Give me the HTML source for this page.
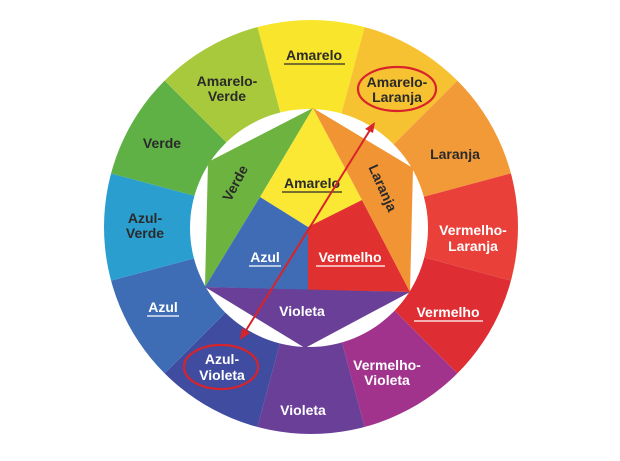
<!DOCTYPE html>
<html><head><meta charset="utf-8"><style>
body{margin:0;background:#fff}
svg text{font-family:"Liberation Sans",sans-serif;font-weight:bold;font-size:14px;text-anchor:middle}
.d{fill:#2a2a2a}.w{fill:#fff}
</style></head><body>
<svg width="620" height="456" viewBox="0 0 620 456">
<defs><clipPath id="c"><circle cx="311" cy="227" r="207"/></clipPath></defs>
<g clip-path="url(#c)">
<polygon points="311,227 243.7,-24.1 378.3,-24.1" fill="#f8e52c"/>
<polygon points="311,227 378.3,-24.1 494.8,43.2" fill="#f7c231"/>
<polygon points="311,227 494.8,43.2 562.1,159.7" fill="#f29a38"/>
<polygon points="311,227 562.1,159.7 562.1,294.3" fill="#e9403a"/>
<polygon points="311,227 562.1,294.3 494.8,410.8" fill="#df2e33"/>
<polygon points="311,227 494.8,410.8 378.3,478.1" fill="#a2338d"/>
<polygon points="311,227 378.3,478.1 243.7,478.1" fill="#6a3f98"/>
<polygon points="311,227 243.7,478.1 127.2,410.8" fill="#3f4ca0"/>
<polygon points="311,227 127.2,410.8 59.9,294.3" fill="#3e6db6"/>
<polygon points="311,227 59.9,294.3 59.9,159.7" fill="#2a9fcf"/>
<polygon points="311,227 59.9,159.7 127.2,43.2" fill="#5fb146"/>
<polygon points="311,227 127.2,43.2 243.7,-24.1" fill="#a7c93b"/>
</g>
<circle cx="309" cy="228" r="119" fill="#fff"/>
<polygon points="313,108 260,197 308,227 362,200" fill="#fbe834"/>
<polygon points="313,108 208,162 205,287 260,197" fill="#6db33f"/>
<polygon points="260,197 205,287 308,290 308,227" fill="#3f6cb5"/>
<polygon points="308,227 362,200 410,292 308,290" fill="#e0302f"/>
<polygon points="313,108 413,168 410,292 362,200" fill="#f19433"/>
<polygon points="205,287 410,292 305,348" fill="#693f98"/>
<text class="d" x="314" y="60">Amarelo</text><line x1="284" y1="64" x2="345" y2="64" stroke="#2a2a2a" stroke-width="1.3"/>
<text class="d" x="397" y="87">Amarelo-</text><text class="d" x="397" y="102">Laranja</text>
<ellipse cx="397" cy="89" rx="39" ry="22" fill="none" stroke="#d8232a" stroke-width="2.2"/>
<text class="d" x="455" y="159">Laranja</text>
<text class="w" x="473" y="235">Vermelho-</text><text class="w" x="473" y="251">Laranja</text>
<text class="w" x="448" y="317">Vermelho</text><line x1="414" y1="321" x2="483" y2="321" stroke="#fff" stroke-width="1.3"/>
<text class="w" x="387" y="370">Vermelho-</text><text class="w" x="387" y="385">Violeta</text>
<text class="w" x="303" y="415">Violeta</text>
<text class="w" x="222" y="364">Azul-</text><text class="w" x="222" y="380">Violeta</text>
<ellipse cx="221" cy="367" rx="37" ry="22" fill="none" stroke="#d8232a" stroke-width="2.2"/>
<text class="w" x="163" y="312">Azul</text><line x1="147" y1="316" x2="179" y2="316" stroke="#fff" stroke-width="1.3"/>
<text class="d" x="145" y="223">Azul-</text><text class="d" x="145" y="238">Verde</text>
<text class="d" x="162" y="148">Verde</text>
<text class="d" x="227" y="86">Amarelo-</text><text class="d" x="227" y="101">Verde</text>
<text class="d" x="312" y="188">Amarelo</text><line x1="282" y1="192" x2="342" y2="192" stroke="#2a2a2a" stroke-width="1.3"/>
<text class="d" x="235" y="188" transform="rotate(-62 235 183)">Verde</text>
<text class="d" x="383" y="193" transform="rotate(66 383 188)">Laranja</text>
<text class="w" x="265" y="262">Azul</text><line x1="249" y1="266" x2="281" y2="266" stroke="#fff" stroke-width="1.3"/>
<text class="w" x="350" y="262">Vermelho</text><line x1="316" y1="266" x2="385" y2="266" stroke="#fff" stroke-width="1.3"/>
<text class="w" x="302" y="316">Violeta</text>
<line x1="370" y1="130" x2="245" y2="332" stroke="#d8232a" stroke-width="2"/>
<polygon points="375,122 365,129 373,133" fill="#d8232a"/>
<polygon points="240,340 242,328 250,333" fill="#d8232a"/>
</svg>
</body></html>
